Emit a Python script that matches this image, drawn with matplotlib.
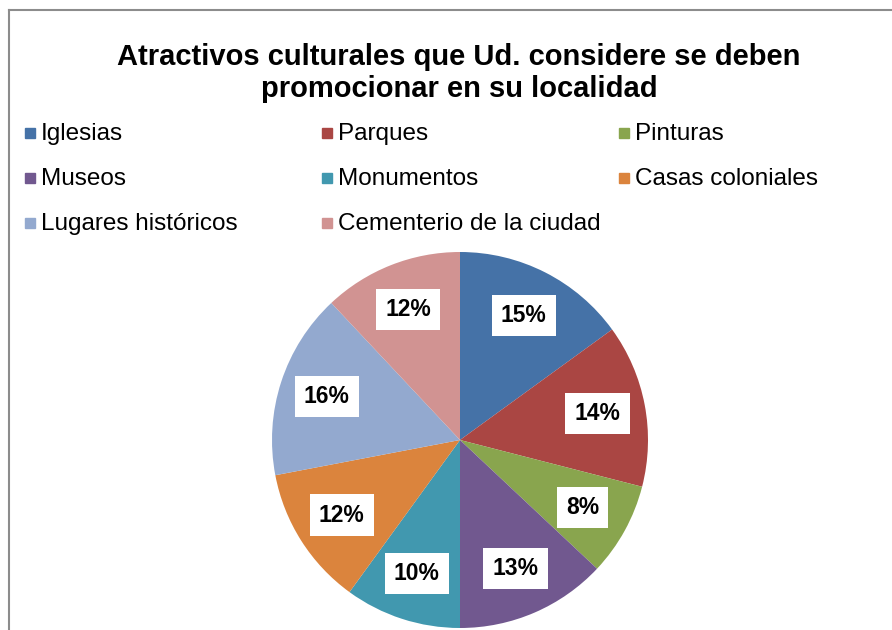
import matplotlib.pyplot as plt
from matplotlib.patches import Rectangle
from matplotlib.lines import Line2D

plt.rcParams['font.family'] = ['Liberation Sans', 'DejaVu Sans']

title = "Atractivos culturales que Ud. considere se deben\npromocionar en su localidad"
labels = ["Iglesias", "Parques", "Pinturas", "Museos", "Monumentos",
          "Casas coloniales", "Lugares históricos", "Cementerio de la ciudad"]
values = [15, 14, 8, 13, 10, 12, 16, 12]
colors = ["#4572A7", "#AA4643", "#89A54E", "#71588F", "#4198AF",
          "#DB843D", "#93A9CF", "#D19392"]

W, H = 892, 630
fig = plt.figure(figsize=(W / 100, H / 100), dpi=100)

# frame (only left and top edges are visible in the crop)
fig.add_artist(Line2D([9 / W, 9 / W], [0, 1 - 10 / H], color="#8c8c8c", lw=1.5))
fig.add_artist(Line2D([9 / W, 1], [1 - 10 / H, 1 - 10 / H], color="#8c8c8c", lw=1.5))

fig.text(459 / W, 1 - 73 / H, title, ha="center", va="center",
         fontsize=21, fontweight="bold", linespacing=1.2)

# legend, three columns filled row by row
for i, name in enumerate(labels):
    col, row = i % 3, i // 3
    x = 25 + col * 297
    y = 133 + row * 45
    fig.add_artist(Rectangle((x / W, 1 - (y + 5) / H), 10 / W, 10 / H,
                             transform=fig.transFigure, color=colors[i]))
    fig.text((x + 16) / W, 1 - (y + 1) / H, name, ha="left", va="center", fontsize=17.5)

# pie
cx, cy, r = 460, 440, 188
ax = fig.add_axes([(cx - r) / W, (H - cy - r) / H, 2 * r / W, 2 * r / H])
wedges, texts, autotexts = ax.pie(values, colors=colors, startangle=90, counterclock=False,
                                  autopct="%1.0f%%", pctdistance=0.745,
                                  wedgeprops=dict(linewidth=0))
for t in autotexts:
    t.set_fontsize(16.5)
    t.set_fontweight("bold")
    t.set_bbox(dict(facecolor="white", edgecolor="none", boxstyle="square,pad=0.4"))
ax.set_xlim(-1, 1)
ax.set_ylim(-1, 1)
ax.set_aspect("auto")
ax.axis("off")

fig.savefig("out.png", dpi=100)
